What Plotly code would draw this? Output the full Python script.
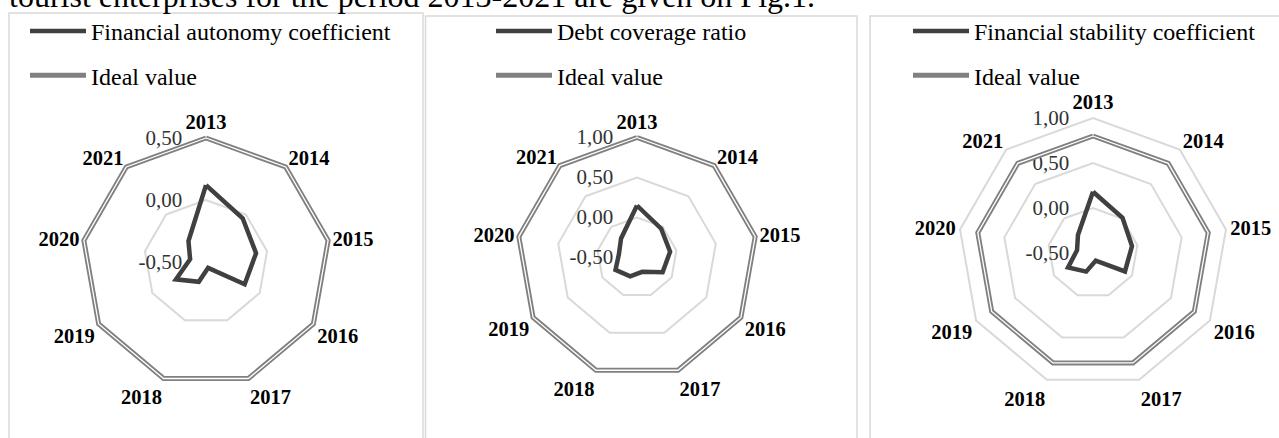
import plotly.graph_objects as go

# ---------------- data ----------------
YEARS = ["2013", "2014", "2015", "2016", "2017", "2018", "2019", "2020", "2021"]
AUTONOMY = [0.12, -0.04, -0.09, -0.14, -0.45, -0.33, -0.22, -0.37, -0.28]
DEBT = [0.15, -0.03, -0.08, -0.13, -0.31, -0.25, -0.19, -0.27, -0.19]
STABILITY = [0.18, 0.01, -0.06, -0.09, -0.41, -0.28, -0.18, -0.32, -0.24]
IDEAL_AUTONOMY = 0.5
IDEAL_DEBT = 1.0
IDEAL_STABILITY = 0.8

SERIES_NAMES = ["Financial autonomy coefficient", "Debt coverage ratio",
                "Financial stability coefficient"]
IDEAL_NAME = "Ideal value"

TICKS_A = [-0.5, 0.0, 0.5]
TICK_TEXT_A = ["-0,50", "0,00", "0,50"]
TICKS_B = [-0.5, 0.0, 0.5, 1.0]
TICK_TEXT_B = ["-0,50", "0,00", "0,50", "1,00"]

HEADER = "tourist enterprises for the period 2013-2021 are given on Fig.1."

# ---------------- layout helpers ----------------
W, H = 1279, 438
FONT = "Liberation Serif"
GRID = "#d9d9d9"
DARK = "#404040"
IDEAL_C = "#808080"
EDGE_PAD = 4  # px of room beyond the outer ring so the ideal line is not clipped


def px(x):
    return x / W


def py(y):
    return 1 - y / H


def polar_geom(cx, cy, r_outer, ticks):
    """domain + range so that the last tick sits at r_outer px from (cx, cy)."""
    lo, hi = ticks[0], ticks[-1]
    span = hi - lo
    ext = span * EDGE_PAD / r_outer
    r_dom = r_outer + EDGE_PAD
    domain = dict(x=[px(cx - r_dom), px(cx + r_dom)],
                  y=[py(cy + r_dom), py(cy - r_dom)])
    return domain, [lo, hi + ext]


panels = [
    dict(vals=AUTONOMY, ideal=IDEAL_AUTONOMY, name=SERIES_NAMES[0],
         tv=TICKS_A, tt=TICK_TEXT_A, geom=(206, 262, 124), leg_x=25),
    dict(vals=DEBT, ideal=IDEAL_DEBT, name=SERIES_NAMES[1],
         tv=TICKS_B, tt=TICK_TEXT_B, geom=(637, 257.5, 120), leg_x=491),
    dict(vals=STABILITY, ideal=IDEAL_STABILITY, name=SERIES_NAMES[2],
         tv=TICKS_B, tt=TICK_TEXT_B, geom=(1093, 253, 135), leg_x=908),
]

fig = go.Figure()
theta = YEARS + [YEARS[0]]

for i, p in enumerate(panels, start=1):
    sub = "polar" if i == 1 else f"polar{i}"
    leg = "legend" if i == 1 else f"legend{i}"
    domain, rng = polar_geom(*p["geom"], p["tv"])
    ideal_vals = [p["ideal"]] * len(YEARS)
    fig.add_trace(go.Scatterpolar(
        r=p["vals"] + [p["vals"][0]], theta=theta, mode="lines",
        line=dict(color=DARK, width=4.5), name=p["name"],
        subplot=sub, legend=leg, legendgroup=f"d{i}", legendrank=1))
    fig.add_trace(go.Scatterpolar(
        r=ideal_vals + [ideal_vals[0]], theta=theta, mode="lines",
        line=dict(color=IDEAL_C, width=5), name=IDEAL_NAME,
        subplot=sub, legend=leg, legendgroup=f"i{i}", legendrank=2))
    fig.add_trace(go.Scatterpolar(
        r=ideal_vals + [ideal_vals[0]], theta=theta, mode="lines",
        line=dict(color="white", width=1.3), name=IDEAL_NAME,
        subplot=sub, showlegend=False, hoverinfo="skip"))

    polar = dict(
        domain=domain, bgcolor="white", gridshape="linear",
        angularaxis=dict(direction="clockwise", rotation=90, showgrid=False,
                         showline=False, ticks="", layer="below traces",
                         tickfont=dict(family=FONT, size=20.5, color="black",
                                       weight="bold")),
        radialaxis=dict(range=rng, tickvals=p["tv"], ticktext=p["tt"],
                        angle=90, side="counterclockwise", tickangle=90,
                        showline=False, gridcolor=GRID, gridwidth=1.5,
                        ticks="outside", ticklen=16, tickcolor="rgba(0,0,0,0)",
                        layer="below traces",
                        tickfont=dict(family=FONT, size=21, color="#333333")),
    )
    legend = dict(x=px(p["leg_x"]), y=py(9), xanchor="left", yanchor="top",
                  bgcolor="rgba(0,0,0,0)", itemwidth=56, tracegroupgap=10,
                  traceorder="grouped",
                  font=dict(family=FONT, size=24, color="black"))
    fig.update_layout({sub: polar, leg: legend})

# panel frames
frames = [(9, 423, 13), (425.5, 857, 16), (870, 1300, 16)]
for x0, x1, y0 in frames:
    fig.add_shape(type="rect", xref="paper", yref="paper",
                  x0=px(x0), x1=px(x1), y0=py(y0), y1=py(470),
                  line=dict(color=GRID, width=1.5), layer="below")

fig.add_annotation(text=HEADER, xref="paper", yref="paper", x=px(7), y=py(16),
                   xanchor="left", yanchor="bottom", showarrow=False,
                   font=dict(family=FONT, size=32, color="black"))

fig.update_layout(width=W, height=H,
                  margin=dict(l=0, r=0, t=0, b=0, pad=0, autoexpand=False),
                  font=dict(family=FONT, color="black"),
                  paper_bgcolor="white", plot_bgcolor="white",
                  showlegend=True)

fig.write_html("out.html", config={"displayModeBar": False},
               post_script="document.body.style.margin='0';"
                           "document.body.style.overflow='hidden';")
